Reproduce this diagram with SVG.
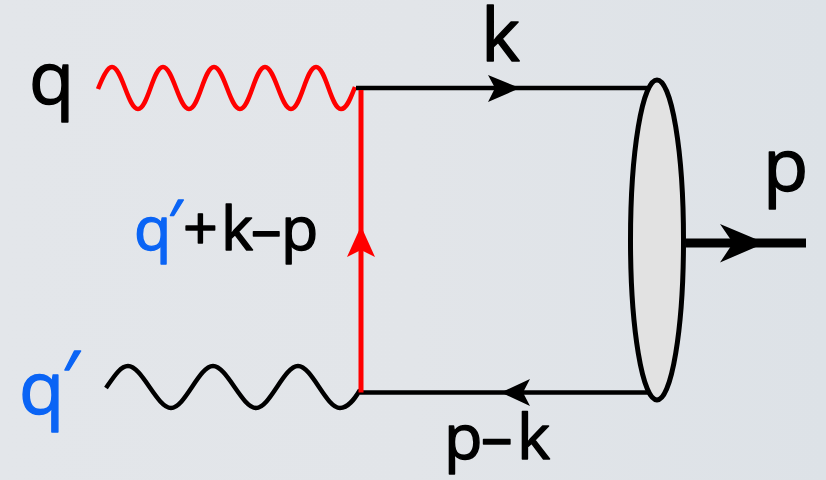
<svg xmlns="http://www.w3.org/2000/svg" width="826" height="480" viewBox="0 0 826 480">
<style>
text{font-family:"Open Sans","Noto Sans",sans-serif;fill:#000;stroke:#000;stroke-width:1.4;stroke-linejoin:round}
.blue{fill:#0a64f5;stroke:#0a64f5}
.wire{fill:none;stroke:#000;stroke-width:4.5}
.wave{fill:none;stroke-width:4.5}
.big{font-size:74px}
.mid{font-size:61px}
</style>
<defs>
<linearGradient id="bg" x1="0" y1="0" x2="1" y2="0">
<stop offset="0" stop-color="#e3e6ea"/>
<stop offset="0.5" stop-color="#e2e5e9"/>
<stop offset="1" stop-color="#dde2e7"/>
</linearGradient>
</defs>
<rect id="background" width="826" height="480" fill="url(#bg)"/>
<g id="connectors">
<path class="wave" stroke="#ff0000" d="M98,89 C102,79 107,67 112,67 C122,67 128,109 138,109 C148,109 153,67 163,67 C173,67 179,109 189,109 C199,109 204,67 214,67 C224,67 230,109 240,109 C250,109 255,67 265,67 C275,67 281,109 291,109 C301,109 306,67 316,67 C326,67 331,109 341,109 C347,109 351,97 355,87"/>
<path class="wave" stroke="#000" d="M106,388 C113,378 120,366 128,366 C142,366 157,408 171,408 C185,408 199,366 213,366 C227,366 242,408 256,408 C270,408 284,366 298,366 C312,366 326,408 340,408 C348,408 354,400 360,390"/>
<path class="wire" d="M356,88H650"/>
<path class="wire" d="M360,392.500H650"/>
<path d="M361,90V392.500" fill="none" stroke="#ff0000" stroke-width="5"/>
<path id="arrow-k" d="M520,88L488,75L495,88L488,102Z"/>
<path id="arrow-pk" d="M501,392.500L530,379L523,392.500L530,406Z"/>
<path id="arrow-red" d="M361,226L347,257L361,250L375,257Z" fill="#ff0000"/>
</g>
<g id="blob">
<ellipse cx="657" cy="240" rx="26.500" ry="160" fill="#e2e2e2" stroke="#000" stroke-width="5"/>
</g>
<g id="outgoing">
<path d="M686,243H806" fill="none" stroke="#000" stroke-width="9"/>
<path d="M765,243L720,224L733,243L720,262.500Z"/>
</g>
<g id="label-q"><text class="big" x="29" y="104">q</text></g>
<g id="label-qprime"><text class="big blue" x="19" y="414">q<tspan x="62" y="404">′</tspan></text></g>
<g id="label-k"><text class="big" x="481" y="61">k</text></g>
<g id="label-p"><text class="big" x="763" y="191">p</text></g>
<g id="label-pk"><text style="font-size:63px" x="444" y="459">p<tspan x="481">–</tspan><tspan x="517">k</tspan></text></g>
<g id="label-mid"><text class="mid" x="134" y="250"><tspan class="blue">q<tspan x="168" y="243">′</tspan></tspan><tspan x="183" y="250">+</tspan><tspan x="221">k</tspan><tspan x="251">–</tspan><tspan x="281">p</tspan></text></g>
</svg>
